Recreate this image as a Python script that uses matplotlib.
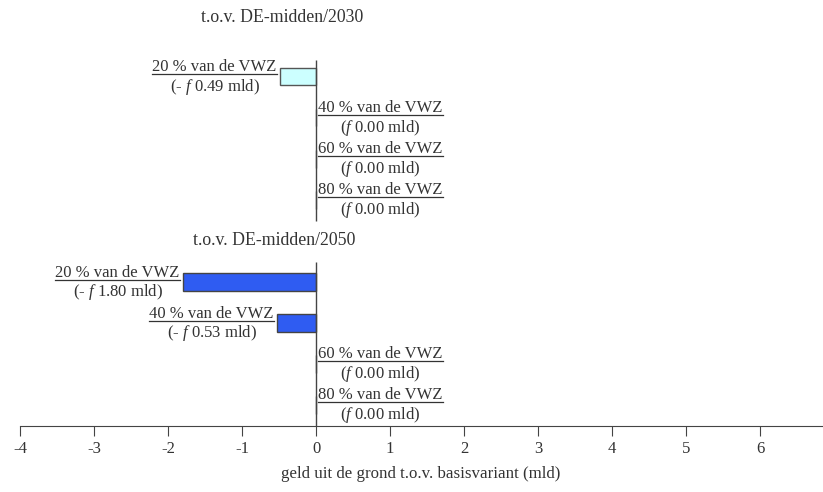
import matplotlib.pyplot as plt
from matplotlib.lines import Line2D

plt.rcParams["font.family"] = ["Liberation Serif", "DejaVu Serif"]
plt.rcParams["mathtext.fontset"] = "custom"
plt.rcParams["mathtext.it"] = "Liberation Serif:italic"
plt.rcParams["mathtext.rm"] = "Liberation Serif"

# aandeel van de VWZ en verandering in geld uit de grond (mld gulden)
shares = ["20 %", "40 %", "60 %", "80 %"]
values_2030 = [-0.49, 0.00, 0.00, 0.00]
values_2050 = [-1.80, -0.53, 0.00, 0.00]
headers = ["t.o.v. DE-midden/2030", "t.o.v. DE-midden/2050"]
xticks = [-4, -3, -2, -1, 0, 1, 2, 3, 4, 5, 6]

TXT = "#333333"
C2030 = "#CCFFFF"
C2050 = "#2F5CF2"
LBL = 12

fig = plt.figure(figsize=(8.23, 4.92), dpi=100, facecolor="white")
ax = fig.add_axes([20 / 823, 1 - 426 / 492, 1 - 20 / 823, (426 - 60) / 492])

rows_2030 = [0, 1, 2, 3]
rows_2050 = [5, 6, 7, 8]
bar_h = 0.42

ax.barh(rows_2030, values_2030, height=bar_h, color=C2030, edgecolor="#555555", linewidth=1)
ax.barh(rows_2050, values_2050, height=bar_h, color=C2050, edgecolor="#444444", linewidth=1)

ax.set_xlim(-4, 6.85)
ax.set_ylim(8.51, -0.41)

# nul-as per blok (onderbroken bij het kopje)
ax.vlines(0, -0.41, 3.51, color="#444444", linewidth=1)
ax.vlines(0, 4.51, 8.51, color="#444444", linewidth=1)

ax.set_xticks(xticks)
ax.set_xticklabels([str(t) for t in xticks], fontsize=12, color=TXT)
ax.set_yticks([])
for s in ["top", "left", "right"]:
    ax.spines[s].set_visible(False)
ax.spines["bottom"].set_color("#444444")
ax.tick_params(axis="x", direction="out", length=7, color="#444444", pad=4)

# kopjes per vergelijking
ax.text(-0.46, -1.44, headers[0], ha="center", va="center", fontsize=12.8, color=TXT, clip_on=False)
ax.text(-0.57, 3.98, headers[1], ha="center", va="center", fontsize=12.8, color=TXT)

fig.text(421 / 823, 1 - 474 / 492, "geld uit de grond t.o.v. basisvariant (mld)",
         ha="center", va="center", fontsize=12.2, color=TXT)

# labels naast de balken: bovenste regel onderstreept
labels = []
for rows, vals in [(rows_2030, values_2030), (rows_2050, values_2050)]:
    for y, share, v in zip(rows, shares, vals):
        line1 = f"{share} van de VWZ"
        if v < 0:
            line2 = r"(- $\it{f}$ " + f"{abs(v):.2f} mld)"
            t1 = ax.text(v - 0.04, y - 0.23, line1, ha="right", va="center", fontsize=LBL, color=TXT)
        else:
            line2 = r"($\it{f}$ " + f"{v:.2f} mld)"
            t1 = ax.text(0.03, y - 0.24, line1, ha="left", va="center", fontsize=LBL, color=TXT)
        labels.append((t1, line2, y))

fig.canvas.draw()
renderer = fig.canvas.get_renderer()
inv = ax.transData.inverted()
for t1, line2, y in labels:
    bb = t1.get_window_extent(renderer)
    x0, _ = inv.transform((bb.x0, bb.y0))
    x1, _ = inv.transform((bb.x1, bb.y0))
    ax.text((x0 + x1) / 2, y + 0.25, line2, ha="center", va="center", fontsize=LBL, color=TXT)
    uy = (bb.y0 + 1) / fig.bbox.height
    fig.add_artist(Line2D([bb.x0 / fig.bbox.width, bb.x1 / fig.bbox.width], [uy, uy],
                          color=TXT, linewidth=0.9))

fig.savefig("out.png", dpi=100, facecolor="white")
